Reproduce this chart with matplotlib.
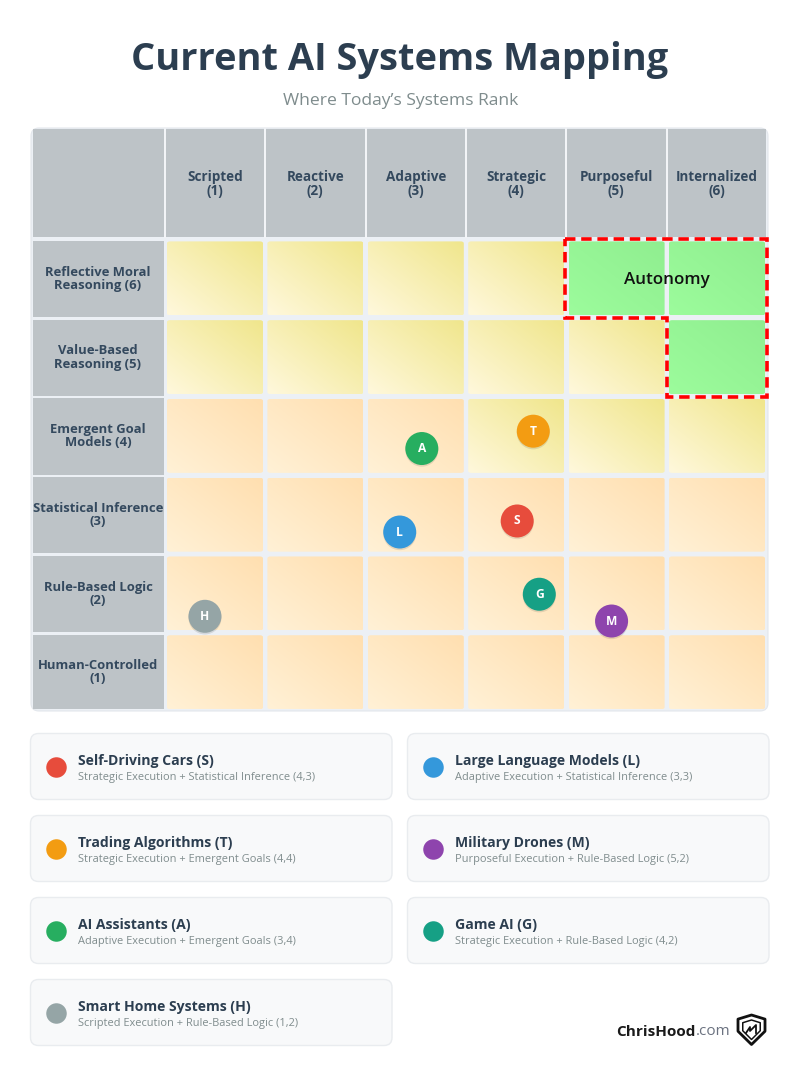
import numpy as np
import matplotlib
matplotlib.use("Agg")
import matplotlib.pyplot as plt
from matplotlib.patches import FancyBboxPatch, Polygon, Rectangle
from matplotlib.colors import to_rgb
import matplotlib.patheffects as pe

plt.rcParams['font.family'] = ['Open Sans', 'DejaVu Sans']

TITLE = "Current AI Systems Mapping"
SUBTITLE = "Where Today\u2019s Systems Rank"
COLUMNS = ["Scripted\n(1)", "Reactive\n(2)", "Adaptive\n(3)", "Strategic\n(4)", "Purposeful\n(5)", "Internalized\n(6)"]
ROWS = ["Reflective Moral\nReasoning (6)", "Value-Based\nReasoning (5)", "Emergent Goal\nModels (4)",
        "Statistical Inference\n(3)", "Rule-Based Logic\n(2)", "Human-Controlled\n(1)"]
ZONES = ["YYYYGG", "YYYYYG", "OOOYYY", "OOOOOO", "OOOOOO", "OOOOOO"]

LETTERS = ["S", "L", "T", "M", "A", "G", "H"]
NAMES = ["Self-Driving Cars (S)", "Large Language Models (L)", "Trading Algorithms (T)", "Military Drones (M)",
         "AI Assistants (A)", "Game AI (G)", "Smart Home Systems (H)"]
DETAILS = ["Strategic Execution + Statistical Inference (4,3)", "Adaptive Execution + Statistical Inference (3,3)",
           "Strategic Execution + Emergent Goals (4,4)", "Purposeful Execution + Rule-Based Logic (5,2)",
           "Adaptive Execution + Emergent Goals (3,4)", "Strategic Execution + Rule-Based Logic (4,2)",
           "Scripted Execution + Rule-Based Logic (1,2)"]
COLORS = ["#e74c3c", "#3498db", "#f39c12", "#8e44ad", "#27ae60", "#16a085", "#95a5a6"]
EXEC_POS = [4.01, 2.84, 4.17, 4.95, 3.06, 4.23, 0.90]
COG_POS = [2.92, 2.78, 4.06, 1.65, 3.84, 1.99, 1.71]

GRAD = {"Y": ("#fff8dc", "#f0e68c"), "O": ("#fff1d6", "#ffdfb0"), "G": ("#9cfc9c", "#90ee90")}

W, H = 802, 1071
fig = plt.figure(figsize=(W / 100, H / 100), dpi=100, facecolor="white")
bg = fig.add_axes([0, 0, 1, 1])
bg.set_xlim(0, W); bg.set_ylim(H, 0); bg.axis("off")

px = 0.72  # points per pixel at dpi 100

bg.text(400, 60, TITLE, ha="center", va="center", fontsize=38 * px, fontweight="bold", color="#2c3e50")
bg.text(401, 101, SUBTITLE, ha="center", va="center", fontsize=17.5 * px, color="#7f8c8d")

# grid frame
bg.add_patch(FancyBboxPatch((31, 128), 737, 583, boxstyle="round,pad=0,rounding_size=8",
                            fc="#ecf0f5", ec="#e3e7ec", lw=0.8))

# data axes over the cell area
X0, X1, Y0, Y1 = 164.8, 767.2, 239.0, 711.6
ax = fig.add_axes([X0 / W, 1 - Y1 / H, (X1 - X0) / W, (Y1 - Y0) / H])
ax.set_xlim(0.5, 6.5); ax.set_ylim(0.5, 6.5); ax.axis("off"); ax.patch.set_alpha(0)

cell_w, cell_h = 96 / 100.4, 74 / 78.8
g = np.linspace(0, 1, 64)
gx, gy = np.meshgrid(g, g)
ramp = (gx + gy) / 2
for ri, zone_row in enumerate(ZONES):
    level = 6 - ri
    for ci, z in enumerate(zone_row):
        col = ci + 1
        c0, c1 = np.array(to_rgb(GRAD[z][0])), np.array(to_rgb(GRAD[z][1]))
        img = c0[None, None, :] * (1 - ramp[..., None]) + c1[None, None, :] * ramp[..., None]
        ext = (col - cell_w / 2, col + cell_w / 2, level - cell_h / 2, level + cell_h / 2)
        im = ax.imshow(img, extent=ext, origin="lower", aspect="auto", zorder=1, interpolation="bilinear")
        clip = FancyBboxPatch((ext[0], ext[2]), cell_w, cell_h, mutation_aspect=78.8 / 100.4,
                              boxstyle="round,pad=0,rounding_size=0.03", fc="none", ec="none",
                              transform=ax.transData)
        ax.add_patch(clip)
        im.set_clip_path(clip)
ax.set_xlim(0.5, 6.5); ax.set_ylim(0.5, 6.5)

# headers
col_edges = [(166, 264), (266, 364.5), (366.5, 465), (467, 565), (567, 665.5), (667.5, 766)]
row_edges = [(241, 317), (319.5, 395.5), (398, 474.5), (477, 553), (555.5, 632), (634.5, 709)]
bg.add_patch(Rectangle((33, 129), 130.5, 108, fc="#bdc3c7", ec="none"))
for (a, b), lab in zip(col_edges, COLUMNS):
    bg.add_patch(Rectangle((a, 129), b - a, 108, fc="#bdc3c7", ec="none"))
    bg.text((a + b) / 2, 184, lab, ha="center", va="center", fontsize=13.5 * px, fontweight="bold",
            color="#34495e", linespacing=1.0)
for x in [164.7, 265, 365.5, 466, 566, 666.5]:
    bg.plot([x, x], [129, 237], color="#f4f6f8", lw=1.6 * px, zorder=3)
for (a, b), lab in zip(row_edges, ROWS):
    bg.add_patch(Rectangle((33, a), 130.5, b - a, fc="#bdc3c7", ec="none"))
    bg.text(98, (a + b) / 2, lab, ha="center", va="center", fontsize=13 * px, fontweight="bold",
            color="#34495e", linespacing=1.02)

# autonomy outline
outline = Polygon([(4.49, 6.5), (6.5, 6.5), (6.5, 4.5), (5.5, 4.5), (5.5, 5.5), (4.49, 5.5)], closed=True,
                  fc="none", ec="#ff0000", lw=3.6 * px, ls=(0, (2.9, 1.6)), zorder=6, clip_on=False, joinstyle="miter")
ax.add_patch(outline)
ax.text(5.5, 5.975, "Autonomy", ha="center", va="center", fontsize=17 * px, fontweight="semibold",
        color="#111111", zorder=7)

# systems
shadow = [pe.withSimplePatchShadow(offset=(0, -1.2), shadow_rgbFace="#000000", alpha=0.10, rho=1.0)]
for x, y, c, l in zip(EXEC_POS, COG_POS, COLORS, LETTERS):
    ax.scatter([x], [y], s=(33 * px) ** 2, color=c, zorder=8, linewidths=0, path_effects=shadow, clip_on=False)
    ax.text(x, y, l, ha="center", va="center", color="white", fontsize=12 * px, fontweight="bold", zorder=9)

# legend cards
card_x = [30, 407]
card_y = [733, 815, 897, 979]
for i, (name, det, c) in enumerate(zip(NAMES, DETAILS, COLORS)):
    x = card_x[i % 2]; y = card_y[i // 2]
    bg.add_patch(FancyBboxPatch((x + .5, y + .5), 361.5, 66, boxstyle="round,pad=0,rounding_size=8",
                                fc="#f8f9fa", ec="#e9ecef", lw=1.0))
    bg.scatter([x + 26], [y + 33.5], s=(20.5 * px) ** 2, color=c, linewidths=0, zorder=3)
    bg.text(x + 48, y + 28, name, ha="left", va="center", fontsize=14 * px, fontweight="bold", color="#2c3e50")
    bg.text(x + 48, y + 44.5, det, ha="left", va="center", fontsize=11 * px, color="#7f8c8d")

# branding
t = bg.text(616, 1031.5, "ChrisHood", ha="left", va="center", fontsize=15.2 * px, fontweight="bold", color="#1a1a1a")
fig.canvas.draw()
bb = t.get_window_extent()
bg.text(bb.x1 + 0.3, 1031.5, ".com", ha="left", va="center", fontsize=15.2 * px, color="#6b7280")

def shield(cx, top, w, h):
    return [(cx - w / 2, top + .14 * h), (cx, top), (cx + w / 2, top + .14 * h), (cx + w / 2, top + .55 * h),
            (cx, top + h), (cx - w / 2, top + .55 * h)]
bg.add_patch(Polygon(shield(751.5, 1015, 27, 29.5), closed=True, fc="white", ec="#111111", lw=2.8 * px, joinstyle="round"))
bg.add_patch(Polygon(shield(751.5, 1020, 17.5, 19.5), closed=True, fc="none", ec="#111111", lw=1.5 * px, joinstyle="round"))
bg.plot([746, 750, 750, 756, 756], [1033, 1027, 1031, 1025, 1033], color="#111111", lw=1.8 * px)

fig.savefig("out.png", dpi=100, facecolor="white")
